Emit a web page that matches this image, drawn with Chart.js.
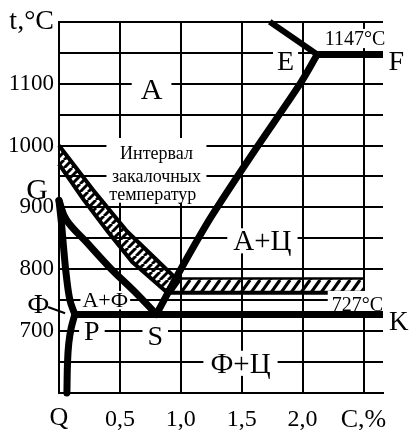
<!DOCTYPE html>
<html>
<head>
<meta charset="utf-8">
<script src="https://cdn.jsdelivr.net/npm/chart.js@4"></script>
<style>
  html, body { margin: 0; padding: 0; background: #fff; }
  #wrap { width: 410px; height: 430px; position: relative; }
</style>
</head>
<body>
<div id="wrap"><canvas id="diagram"></canvas></div>
<script>
// Steel corner of the iron–carbon diagram with the quenching temperature interval.
// Carbon content in %, temperature in °C.

const carbonTickLabels = ['Q', '0,5', '1,0', '1,5', '2,0', 'C,%'];
const tempTickValues = [700, 800, 900, 1000, 1100];
const tempUnit = 't,°C';

// Phase boundaries
const gsC = [0, 0.06, 0.22, 0.43, 0.62, 0.8];
const gsT = [911, 880, 845, 800, 764, 727];
const gpC = [0, 0.02, 0.04, 0.06, 0.09, 0.13];
const gpT = [911, 875, 830, 790, 750, 727];
const pqC = [0.13, 0.1, 0.08, 0.07, 0.065];
const pqT = [727, 705, 680, 650, 600];
const esC = [0.8, 1.0, 1.25, 1.6, 1.98, 2.12];
const esT = [727, 800, 885, 990, 1100, 1147];
const aeC = [1.73, 2.12];
const aeT = [1200, 1147];
const efC = [2.12, 2.66];
const efT = [1147, 1147];
const pskC = [0.13, 2.66];
const pskT = [727, 727];
const leaderC = [-0.09, 0.05];
const leaderT = [739, 729];

// Quenching interval band (upper and lower edges)
const bandTopC = [0, 0.28, 0.56, 0.96, 2.5];
const bandTopT = [1000, 928, 861, 785, 785];
const bandLowC = [0, 0.2, 0.4, 0.6, 0.89, 2.5];
const bandLowT = [970, 913, 861, 812, 762, 762];

// Region and point names
const labels = [
  { text: 'А', c: 0.76, t: 1091, size: 30, padX: 9, padY: [3, 3] },
  { text: 'Интервал', c: 0.80, t: 988, size: 18, boxW: 100, padY: [9, 6] },
  { text: 'закалочных', c: 0.80, t: 951, size: 18, boxW: 100, padY: [6, 6] },
  { text: 'температур', c: 0.77, t: 922, size: 18, boxW: 100, boxC: 0.80, padY: [6, 3] },
  { text: 'А+Ц', c: 1.67, t: 846, size: 29, padX: 6, padY: [3, 3] },
  { text: 'А+Ф', c: 0.38, t: 750, size: 22, padX: 2, padY: [2, 2] },
  { text: 'P', c: 0.27, t: 700, size: 28, padX: 5, padY: [2, 2] },
  { text: 'S', c: 0.79, t: 693, size: 28, padX: 5, padY: [2, 2] },
  { text: 'Ф+Ц', c: 1.49, t: 648, size: 29, padX: 7, padY: [3, 3] },
  { text: 'E', c: 1.86, t: 1137, size: 28, padX: 4, padY: [2, 2] },
  { text: 'F', c: 2.77, t: 1137, size: 28 },
  { text: 'K', c: 2.79, t: 717, size: 27 },
  { text: 'G', c: -0.18, t: 930, size: 30 },
  { text: 'Ф', c: -0.17, t: 745, size: 28 },
  { text: '1147°C', c: 2.43, t: 1173, size: 20, padX: 2, padY: [3, 3] },
  { text: '727°C', c: 2.45, t: 743, size: 20, padX: 4, padY: [7, 0.5] }
];

const FONT = '"Liberation Serif", "DejaVu Serif", serif';
const pts = (cs, ts) => cs.map((c, i) => ({ x: c, y: ts[i] }));

function phaseLine(cs, ts, width, tension, extra) {
  return Object.assign({
    data: pts(cs, ts),
    showLine: true,
    borderColor: '#000',
    borderWidth: width,
    tension: tension,
    pointRadius: 0,
    fill: false,
    clip: false,
    order: 1,
    borderCapStyle: 'round',
    borderJoinStyle: 'round'
  }, extra || {});
}

function hatchPattern(ctx, w, h, lw) {
  const c = document.createElement('canvas');
  c.width = w; c.height = h;
  const g = c.getContext('2d');
  g.strokeStyle = '#000';
  g.lineWidth = lw;
  g.beginPath();
  for (const dx of [-w, 0, w]) { g.moveTo(dx, h); g.lineTo(dx + w, 0); }
  g.stroke();
  return ctx.createPattern(c, 'repeat');
}

function labelGeometry(chart, L) {
  const ctx = chart.ctx;
  const xs = chart.scales.x, ys = chart.scales.y;
  ctx.font = L.size + 'px ' + FONT;
  const w = ctx.measureText(L.text).width;
  const cap = 0.66 * L.size;
  const x = xs.getPixelForValue(L.c);
  const y = ys.getPixelForValue(L.t);
  return { x, y, w, cap };
}

let boxesDrawn = false;
const diagramPlugin = {
  id: 'diagramPlugin',
  beforeDatasetsDraw(chart) {
    boxesDrawn = false;
    const ctx = chart.ctx;
    const xs = chart.scales.x, ys = chart.scales.y;
    const X = v => xs.getPixelForValue(v), Y = v => ys.getPixelForValue(v);
    // hatched quenching band: sloped part and horizontal part
    const nTop = bandTopC.length, nLow = bandLowC.length;
    const slope = [], flat = [];
    for (let i = 0; i < nTop - 1; i++) slope.push([X(bandTopC[i]), Y(bandTopT[i])]);
    for (let i = nLow - 2; i >= 0; i--) slope.push([X(bandLowC[i]), Y(bandLowT[i])]);
    flat.push([X(bandTopC[nTop - 2]), Y(bandTopT[nTop - 2])]);
    flat.push([X(bandTopC[nTop - 1]), Y(bandTopT[nTop - 1])]);
    flat.push([X(bandLowC[nLow - 1]), Y(bandLowT[nLow - 1])]);
    flat.push([X(bandLowC[nLow - 2]), Y(bandLowT[nLow - 2])]);
    const fillPoly = (poly, pattern) => {
      ctx.save();
      ctx.beginPath();
      poly.forEach((p, i) => i ? ctx.lineTo(p[0], p[1]) : ctx.moveTo(p[0], p[1]));
      ctx.closePath();
      ctx.fillStyle = pattern;
      ctx.fill();
      ctx.restore();
    };
    fillPoly(slope, hatchPattern(ctx, 8, 8, 3));
    fillPoly(flat, hatchPattern(ctx, 10, 14, 3.2));
  },
  beforeDatasetDraw(chart, args) {
    if (boxesDrawn || chart.data.datasets[args.index].order !== 1) return;
    boxesDrawn = true;
    const ctx = chart.ctx;
    ctx.save();
    ctx.fillStyle = '#fff';
    for (const L of labels) {
      if (L.padY === undefined) continue;
      const g = labelGeometry(chart, L);
      const bw = L.boxW !== undefined ? L.boxW : g.w + 2 * L.padX;
      const bx = L.boxC !== undefined ? chart.scales.x.getPixelForValue(L.boxC) : g.x;
      ctx.fillRect(bx - bw / 2, g.y - g.cap / 2 - L.padY[0], bw, g.cap + L.padY[0] + L.padY[1]);
    }
    ctx.restore();
  },
  afterDatasetsDraw(chart) {
    const ctx = chart.ctx;
    ctx.save();
    ctx.fillStyle = '#000';
    ctx.textAlign = 'center';
    ctx.textBaseline = 'alphabetic';
    for (const L of labels) {
      const g = labelGeometry(chart, L);
      ctx.font = L.size + 'px ' + FONT;
      ctx.fillText(L.text, g.x, g.y + g.cap / 2);
    }
    ctx.restore();
  }
};

new Chart(document.getElementById('diagram'), {
  type: 'scatter',
  data: {
    datasets: [
      phaseLine(gsC, gsT, 7, 0.4),
      phaseLine(gpC, gpT, 7, 0.4),
      phaseLine(pqC, pqT, 7, 0.4),
      phaseLine(esC, esT, 7, 0.3),
      phaseLine(aeC, aeT, 6, 0, { borderCapStyle: 'butt' }),
      phaseLine(efC, efT, 7, 0, { borderCapStyle: 'butt' }),
      phaseLine(pskC, pskT, 7, 0, { borderCapStyle: 'butt' }),
      phaseLine(leaderC, leaderT, 2, 0, { borderCapStyle: 'butt' }),
      phaseLine(bandTopC, bandTopT, 4, 0, {
        order: 2, borderCapStyle: 'butt', borderJoinStyle: 'miter',
        segment: { borderWidth: s => (s.p0.parsed.y === s.p1.parsed.y ? 2.5 : 4) }
      }),
      phaseLine(bandLowC, bandLowT, 4, 0, { order: 2, borderCapStyle: 'butt', borderJoinStyle: 'miter' })
    ]
  },
  options: {
    responsive: true,
    maintainAspectRatio: false,
    animation: false,
    events: [],
    layout: { padding: { top: 20, right: 27, left: 0, bottom: 0 } },
    plugins: { legend: { display: false }, tooltip: { enabled: false } },
    scales: {
      x: {
        type: 'linear',
        min: 0,
        max: 2.66,
        afterFit(scale) { scale.height = 37; },
        ticks: {
          stepSize: 0.5,
          includeBounds: false,
          autoSkip: false,
          maxRotation: 0,
          padding: 12,
          color: '#000',
          font: c => (c.index === 0
            ? { family: FONT, size: 26, lineHeight: 1.0 }
            : { family: FONT, size: c.index === 5 ? 26 : 24, lineHeight: 1.2 }),
          callback: (v, i) => carbonTickLabels[i]
        },
        grid: { color: '#000', lineWidth: 2, drawTicks: false },
        border: { color: '#000', width: 2 }
      },
      y: {
        type: 'linear',
        min: 600,
        max: 1200,
        afterFit(scale) { scale.width = 59; },
        ticks: {
          stepSize: 50,
          autoSkip: false,
          padding: 5,
          color: '#000',
          font: c => ({ family: FONT, size: c.tick && c.tick.value === 1200 ? 28 : 23 }),
          callback: v => (v === 1200 ? tempUnit : (tempTickValues.includes(v) ? String(v) : ''))
        },
        grid: { color: '#000', lineWidth: 2, drawTicks: false },
        border: { color: '#000', width: 2 }
      }
    }
  },
  plugins: [diagramPlugin]
});
</script>
</body>
</html>
